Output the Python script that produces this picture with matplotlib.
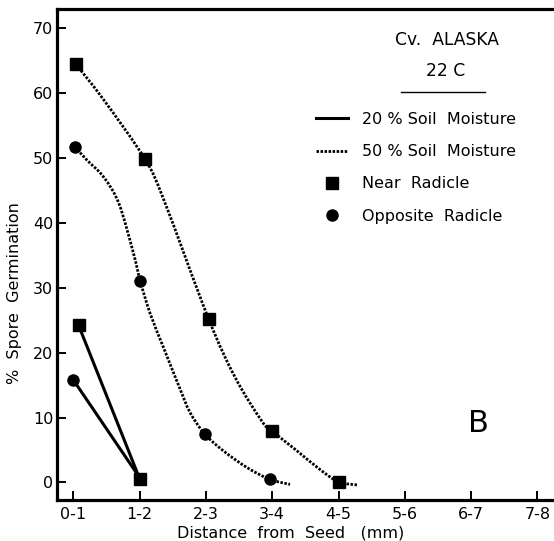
import numpy as np
import matplotlib
matplotlib.use("Agg")
import matplotlib.pyplot as plt
from matplotlib.path import Path
from matplotlib.patches import PathPatch
from matplotlib.lines import Line2D

plt.rcParams['font.family'] = ['DejaVu Sans']

# distance classes (mm)
tick_labels = ['0-1', '1-2', '2-3', '3-4', '4-5', '5-6', '6-7', '7-8']
y_ticks = [0, 10, 20, 30, 40, 50, 60, 70]

# 20 % soil moisture (solid lines)
near20_x = [0.08, 1.00]
near20_y = [24.2, 0.6]
opp20_x = [0.00, 1.03]
opp20_y = [15.8, 0.3]

# 50 % soil moisture, measured points
near50_x = [0.04, 1.08, 2.04, 2.99, 4.00]
near50_y = [64.4, 49.8, 25.2, 8.0, 0.1]
opp50_x = [0.02, 1.01, 1.98, 2.96]
opp50_y = [51.7, 31.0, 7.5, 0.5]

# hand drawn curves through the 50 % points
near50_curve_x = [0.04, 0.46, 1.08, 1.37, 2.04, 2.44, 2.84, 2.99,
                  3.37, 3.72, 4.00, 4.30]
near50_curve_y = [64.4, 58.9, 49.8, 43.4, 25.2, 16.2, 9.5, 8.0,
                  4.9, 2.0, 0.1, -0.4]
opp50_curve_x = [0.02, 0.21, 0.46, 0.69, 0.91, 1.01, 1.16, 1.36, 1.61,
                 1.76, 1.98, 2.26, 2.62, 2.96, 3.27]
opp50_curve_y = [51.7, 49.6, 47.0, 42.9, 35.2, 31.0, 26.0, 20.8, 14.4,
                 10.8, 7.5, 4.9, 2.3, 0.5, -0.3]

legend_labels = ['20 % Soil  Moisture', '50 % Soil  Moisture',
                 'Near  Radicle', 'Opposite  Radicle']

DOT = (0, (0.9, 0.55))


def smooth_path(xs, ys):
    # catmull-rom through the traced points, as cubic bezier pieces
    pts = np.column_stack([xs, ys])
    p = np.vstack([pts[0], pts, pts[-1]])
    verts = [pts[0]]
    codes = [Path.MOVETO]
    for i in range(1, len(p) - 2):
        p0, p1, p2, p3 = p[i - 1], p[i], p[i + 1], p[i + 2]
        verts += [p1 + (p2 - p0) / 6, p2 - (p3 - p1) / 6, p2]
        codes += [Path.CURVE4] * 3
    return Path(verts, codes)


W, H = 554, 541
fig = plt.figure(figsize=(W / 100, H / 100), dpi=100)
ax = fig.add_axes([56.7 / W, (H - 500) / H, 1 - 56.7 / W, (500 - 9) / H])

ax.set_xlim(-0.25, 7.25)
ax.set_ylim(-2.7, 72.9)

for cx, cy in [(near50_curve_x, near50_curve_y), (opp50_curve_x, opp50_curve_y)]:
    ax.add_patch(PathPatch(smooth_path(cx, cy), fill=False, ec='k',
                           lw=2.0, ls=DOT, capstyle='butt', zorder=2))

ax.plot(near20_x, near20_y, color='k', lw=2.2, solid_capstyle='round', zorder=2)
ax.plot(opp20_x, opp20_y, color='k', lw=2.2, solid_capstyle='round', zorder=2)

ax.plot(near50_x + near20_x, near50_y + near20_y, ls='none', marker='s',
        ms=8, color='k', zorder=3)
ax.plot(opp50_x + opp20_x[:1], opp50_y + opp20_y[:1], ls='none', marker='o',
        ms=8, color='k', zorder=3)

ax.set_xticks(range(len(tick_labels)))
ax.set_xticklabels(tick_labels)
ax.set_yticks(y_ticks)
ax.tick_params(direction='in', length=6.5, width=1.4, labelsize=11.5)
ax.tick_params(axis='x', pad=5)
ax.tick_params(axis='y', pad=2.5)
for s in ['left', 'bottom', 'top']:
    ax.spines[s].set_linewidth(2.3)
ax.spines['right'].set_visible(False)

fig.text(15 / W, 1 - 293 / H, '%  Spore  Germination', rotation=90,
         ha='center', va='center', fontsize=11.5)
fig.text(291 / W, 1 - 533 / H, 'Distance  from  Seed   (mm)',
         ha='center', va='center', fontsize=11.5)

fig.text(446.7 / W, 1 - 40 / H, 'Cv.  ALASKA', ha='center', va='center',
         fontsize=12.3)
fig.text(445.5 / W, 1 - 71 / H, '22 C', ha='center', va='center',
         fontsize=12.3)
fig.add_artist(Line2D([401 / W, 485 / W], [1 - 92.3 / H] * 2, lw=1, color='k'))

handles = [Line2D([], [], color='k', lw=2.2),
           Line2D([], [], color='k', lw=2.0, ls=DOT),
           Line2D([], [], color='k', ls='none', marker='s', ms=8),
           Line2D([], [], color='k', ls='none', marker='o', ms=8)]
fig.legend(handles, legend_labels, loc='upper left',
           bbox_to_anchor=(316 / W, 1 - 112 / H), frameon=False,
           borderpad=0, borderaxespad=0, handlelength=2.0,
           handletextpad=0.9, labelspacing=1.08, fontsize=11.5, numpoints=1)

fig.text(478 / W, 1 - 424 / H, 'B', ha='center', va='center', fontsize=22)

fig.savefig('out.png', dpi=100, facecolor='white')
